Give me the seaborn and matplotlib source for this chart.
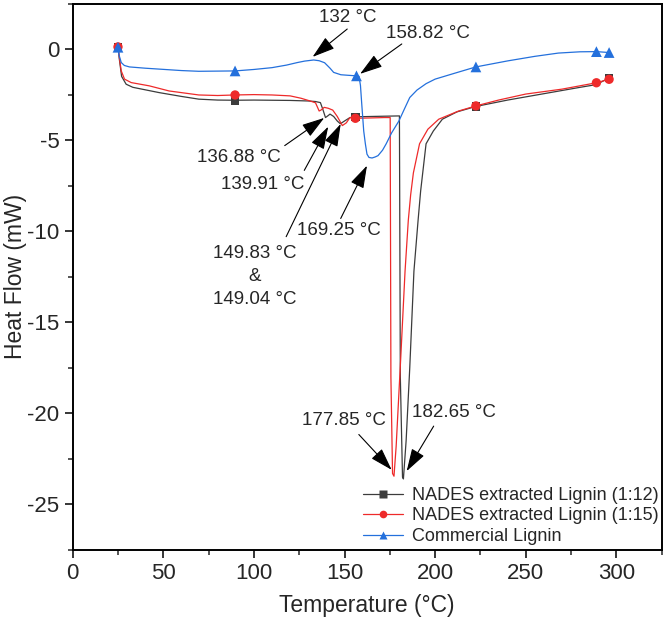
import numpy as np
import pandas as pd
import matplotlib
matplotlib.use("Agg")
import matplotlib.pyplot as plt
from matplotlib.lines import Line2D
import seaborn as sns

# ---- data ----
t_112 = [25, 25.8, 27, 29.5, 33.2, 47.7, 60, 69.6, 80, 89.6, 100, 120, 130, 134, 136.7,
         138, 139.5, 141, 142, 144, 146, 147.7, 150, 153, 156, 165, 175, 180.3, 180.8,
         182, 182.5, 184, 186, 188.3, 190.6, 192, 195, 199, 204, 212, 222.5, 240, 260,
         280, 289, 296]
h_112 = [0.15, -0.6, -1.5, -1.93, -2.1, -2.39, -2.6, -2.75, -2.8, -2.81, -2.8, -2.82,
         -2.85, -2.88, -2.94, -3.3, -3.76, -3.65, -3.57, -3.7, -3.95, -4.1, -3.95, -3.76,
         -3.72, -3.7, -3.68, -3.67, -18.0, -23.5, -23.6, -21.5, -17.5, -12.2, -9.4, -7.8,
         -5.2, -4.5, -3.85, -3.45, -3.15, -2.8, -2.45, -2.1, -1.95, -1.58]

t_115 = [25, 25.8, 26.8, 28.6, 32.3, 42.3, 53.2, 69.6, 80, 89.6, 100, 110, 120, 126, 131,
         134, 136, 137, 138.8, 141, 143.5, 146, 148.8, 151, 153, 156, 165, 172, 175.2,
         175.6, 176.5, 177.3, 178.5, 181, 183.4, 185.2, 186.5, 188, 191.4, 196, 202, 213,
         222.5, 235, 250, 270, 289, 296]
h_115 = [0.15, -0.5, -1.2, -1.65, -1.84, -2.02, -2.3, -2.52, -2.55, -2.52, -2.5, -2.52,
         -2.57, -2.7, -2.85, -2.95, -3.4, -3.35, -3.2, -3.25, -3.35, -3.7, -4.2, -4.05,
         -3.76, -3.8, -3.78, -3.76, -3.76, -18.0, -23.3, -23.45, -21.8, -17.0, -12.2,
         -9.4, -8.0, -6.8, -5.2, -4.4, -3.85, -3.4, -3.12, -2.8, -2.47, -2.2, -1.85, -1.66]

t_com = [25, 25.5, 26.8, 28.5, 31.3, 40, 47.7, 60, 69.6, 89.6, 100, 110, 118, 124, 128,
         133, 136, 139, 142, 144, 148, 152, 156.6, 158, 158.8, 159.5, 160.6, 161.5, 162.4,
         163.5, 165.2, 167, 168.5, 171, 173, 176, 180, 183, 186, 190, 195, 200, 210, 222.5,
         240, 255, 268, 280, 289, 296]
h_com = [0.1, -0.3, -0.74, -0.9, -0.98, -1.05, -1.1, -1.18, -1.22, -1.2, -1.12, -1.02,
         -0.88, -0.74, -0.66, -0.6, -0.64, -0.75, -1.05, -1.28, -1.41, -1.44, -1.47, -1.5,
         -2.0, -3.0, -4.5, -5.2, -5.77, -5.95, -5.98, -5.92, -5.85, -5.55, -5.2, -4.6,
         -3.95, -3.3, -2.66, -2.25, -1.9, -1.65, -1.35, -0.98, -0.65, -0.4, -0.22, -0.15,
         -0.14, -0.19]

# marker positions (Origin draws symbols only every few points)
mk_t_112 = [25, 89.6, 156, 222.5, 296]
mk_h_112 = [0.12, -2.81, -3.74, -3.15, -1.58]
mk_t_115 = [25, 89.6, 156, 222.5, 289, 296]
mk_h_115 = [0.12, -2.52, -3.8, -3.12, -1.85, -1.66]
mk_t_com = [25, 89.6, 156.6, 222.5, 289, 296]
mk_h_com = [0.1, -1.2, -1.47, -0.98, -0.14, -0.19]

series_names = ['NADES extracted Lignin (1:12)', 'NADES extracted Lignin (1:15)',
                'Commercial Lignin']
colors = ['#3c3c3c', '#ee2a2a', '#2470dc']

# annotations: (text, text x, text y, arrow tail, arrow tip)
notes = [
    ('132 °C', 152, 1.76, (151.5, 1.1), (132.4, -0.43)),
    ('158.82 °C', 196, 0.85, (181.6, 0.28), (158.6, -1.36)),
    ('136.88 °C', 91.5, -5.98, (117, -5.3), (138.8, -3.78)),
    ('139.91 °C', 105, -7.45, (127.8, -6.66), (141, -4.26)),
    ('149.83 °C\n&\n149.04 °C', 100.5, -12.5, (117.8, -10.3), (147.9, -4.11)),
    ('169.25 °C', 147, -9.97, (147.9, -9.3), (162.4, -6.4)),
    ('177.85 °C', 149.7, -20.37, (157.9, -21.16), (176, -23.1)),
    ('182.65 °C', 210.6, -19.93, (199.2, -20.7), (184.3, -23.17)),
]

sns.set_theme(style='ticks')
plt.rcParams['font.family'] = ['Liberation Sans', 'DejaVu Sans']
plt.rcParams['axes.unicode_minus'] = False

fig = plt.figure(figsize=(6.68, 6.19), dpi=100)
ax = fig.add_axes([0.1088, 0.1115, 0.8817, 0.8828])

curves = [(t_112, h_112), (t_115, h_115), (t_com, h_com)]
marks = [(mk_t_112, mk_h_112, 's', 38), (mk_t_115, mk_h_115, 'o', 45),
         (mk_t_com, mk_h_com, '^', 60)]

for (t, h), (mt, mh, m, s), c in zip(curves, marks, colors):
    df = pd.DataFrame({'T': t, 'H': h})
    sns.lineplot(data=df, x='T', y='H', sort=False, estimator=None, color=c,
                 lw=0.9, ax=ax)
    dm = pd.DataFrame({'T': mt, 'H': mh})
    sns.scatterplot(data=dm, x='T', y='H', marker=m, s=s, color=c,
                    edgecolor='none', ax=ax, zorder=3)

for txt, tx, ty, tail, tip in notes:
    ax.text(tx, ty, txt, fontsize=13.5, ha='center', va='center',
            linespacing=1.45)
    ax.annotate('', xy=tip, xytext=tail,
                arrowprops=dict(arrowstyle='-|>,head_length=0.7,head_width=0.22',
                                color='black', lw=0.8, mutation_scale=20,
                                shrinkA=0, shrinkB=0))

ax.set_xlim(0, 322.7)
ax.set_ylim(-27.45, 2.45)
ax.set_xticks(np.arange(0, 301, 50))
ax.set_xticks(np.arange(25, 326, 50), minor=True)
ax.set_yticks(np.arange(-25, 1, 5))
ax.set_yticks(np.arange(-27.5, 2.6, 5), minor=True)
ax.tick_params(which='major', direction='out', length=6, width=1.3, labelsize=16,
               top=False, right=False)
ax.tick_params(which='minor', direction='out', length=3.5, width=1.1,
               top=False, right=False)
for sp in ax.spines.values():
    sp.set_visible(True)
    sp.set_linewidth(1.4)
    sp.set_color('black')
ax.set_xlabel('Temperature (°C)', fontsize=16.5, labelpad=7)
ax.set_ylabel('Heat Flow (mW)', fontsize=16.5, labelpad=0)

handles = []
for name, c, m in zip(series_names, colors, ['s', 'o', '^']):
    handles.append(Line2D([0], [0], color=c, lw=0.9, marker=m, markersize=5.5,
                          markeredgecolor='none', label=name))
ax.legend(handles=handles, loc='upper left', bbox_to_anchor=(0.478, 0.132),
          frameon=False, fontsize=13, handlelength=2.2, handletextpad=0.5,
          labelspacing=0.2, borderpad=0)

fig.savefig('out.png', dpi=100)
